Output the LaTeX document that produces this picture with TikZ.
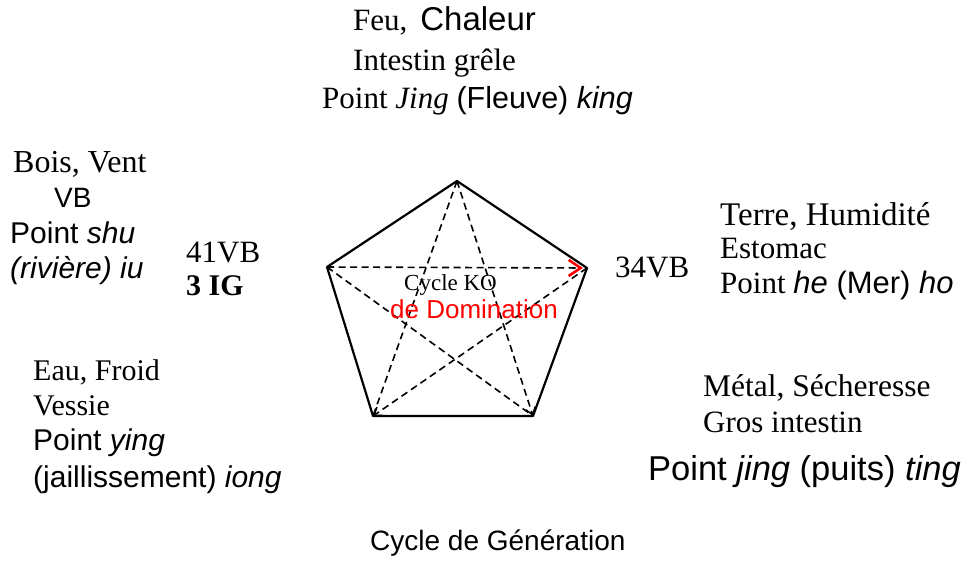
\documentclass[tikz,border=0pt]{standalone}
\usepackage{fontspec}
\setmainfont{Liberation Serif}
\setsansfont{Liberation Sans}
\usetikzlibrary{arrows.meta}
\newcommand{\fs}[1]{\fontsize{#1}{#1}\selectfont}
\begin{document}
\begin{tikzpicture}[x=1pt,y=-1pt,
  lbl/.style={anchor=base west,inner sep=0pt,font=\fs{31}},
  edge/.style={line width=2.2pt,line join=round},
  ko/.style={line width=1.6pt,dash pattern=on 7pt off 4.5pt},
  kotip/.style={-{Straight Barb[length=7pt,width=10pt,line width=1.5pt]}},
]
\useasboundingbox (0,0) rectangle (965,560);
\fill[white] (0,0) rectangle (965,560);

% pentagon corners
\coordinate (T) at (457,181);
\coordinate (L) at (327,267);
\coordinate (R) at (587,268);
\coordinate (BL) at (373,416);
\coordinate (BR) at (533,416);

% generation cycle: outer pentagon
\draw[edge] (T) -- (R) -- (BR) -- (BL) -- (L) -- cycle;

% control cycle: inner star
\draw[ko] (T) -- (BL);
\draw[ko] (L) -- (BR);
\draw[ko,kotip] (R) -- (BL);
\draw[ko,kotip] (T) -- (BR);
\draw[ko,shorten >=4pt,-{Straight Barb[length=12pt,width=16pt,line width=2.6pt,color=red]}] (L) -- (R);

% labels in the centre
\node[lbl,font=\fs{23}] (ko) at (404,290) {Cycle KO};
\node[lbl,font=\sffamily\fs{26},text=red] (dom) at (390,318) {de Domination};

% fire (top)
\node[lbl] (f1) at (353,30) {Feu,\, {\sffamily\fs{33}Chaleur}};
\node[lbl] (f2) at (353,70) {Intestin grêle};
\node[lbl] (f3) at (322,108) {Point \textit{Jing} {\sffamily\fs{30.5}(Fleuve) \textit{king}}};

% wood (left)
\node[lbl,font=\fs{32}] (w1) at (13,172) {Bois, Vent};
\node[lbl,font=\sffamily\fs{28}] (w2) at (54,207) {VB};
\node[lbl,font=\sffamily\fs{30}] (w3) at (10,243) {Point \textit{shu}};
\node[lbl,font=\sffamily\fs{30}] (w4) at (10,278) {\textit{(rivière) iu}};
\node[lbl] (w5) at (186,262) {41VB};
\node[lbl,font=\bfseries\fs{30}] (w6) at (186,295) {3 IG};

% earth (right)
\node[lbl] (e0) at (615,277) {34VB};
\node[lbl,font=\fs{33}] (e1) at (720,225) {Terre, Humidité};
\node[lbl] (e2) at (720,258) {Estomac};
\node[lbl] (e3) at (720,293) {Point {\sffamily\fs{31}\textit{he} (Mer) \textit{ho}}};

% water (bottom left)
\node[lbl,font=\fs{30}] (a1) at (33,380) {Eau, Froid};
\node[lbl,font=\fs{30}] (a2) at (33,415) {Vessie};
\node[lbl,font=\sffamily\fs{30}] (a3) at (33,450) {Point \textit{ying}};
\node[lbl,font=\sffamily\fs{30}] (a4) at (33,487) {(jaillissement) \textit{iong}};

% metal (bottom right)
\node[lbl,font=\fs{31.5}] (m1) at (703,396) {Métal, Sécheresse};
\node[lbl] (m2) at (703,432) {Gros intestin};
\node[lbl,font=\sffamily\fs{34.5}] (m3) at (648,480) {Point \textit{jing} (puits) \textit{ting}};

% caption
\node[lbl,font=\sffamily\fs{28}] (gen) at (370,550) {Cycle de Génération};
\end{tikzpicture}
\end{document}
